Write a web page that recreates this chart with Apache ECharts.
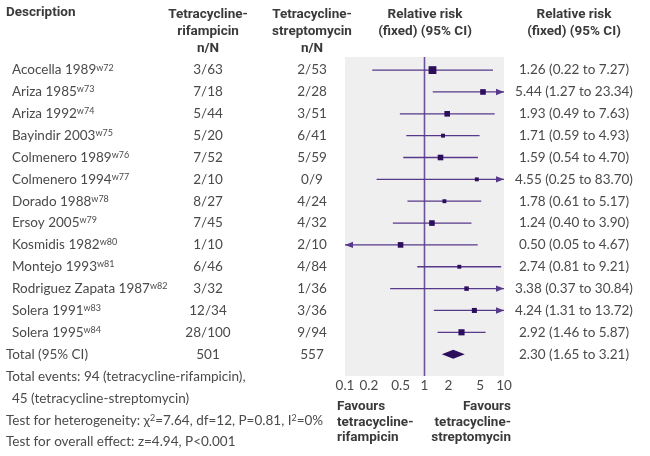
<!DOCTYPE html>
<html>
<head>
<meta charset="utf-8">
<script src="https://cdn.jsdelivr.net/npm/echarts@6/dist/echarts.min.js"></script>
<style>
html,body{margin:0;padding:0;background:#fff;}
#chart{width:650px;height:456px;}
</style>
</head>
<body>
<div id="chart"></div>
<script>
// ---- data ----
const studies = ['Acocella 1989','Ariza 1985','Ariza 1992','Bayindir 2003','Colmenero 1989','Colmenero 1994','Dorado 1988','Ersoy 2005','Kosmidis 1982','Montejo 1993','Rodriguez Zapata 1987','Solera 1991','Solera 1995'];
const refs = ['w72','w73','w74','w75','w76','w77','w78','w79','w80','w81','w82','w83','w84'];
const rifampicin = ['3/63','7/18','5/44','5/20','7/52','2/10','8/27','7/45','1/10','6/46','3/32','12/34','28/100'];
const streptomycin = ['2/53','2/28','3/51','6/41','5/59','0/9','4/24','4/32','2/10','4/84','1/36','3/36','9/94'];
const rr = [1.26,5.44,1.93,1.71,1.59,4.55,1.78,1.24,0.50,2.74,3.38,4.24,2.92];
const lower = [0.22,1.27,0.49,0.59,0.54,0.25,0.61,0.40,0.05,0.81,0.37,1.31,1.46];
const upper = [7.27,23.34,7.63,4.93,4.70,83.70,5.17,3.90,4.67,9.21,30.84,13.72,5.87];
const weight = [17,8.7,8.7,4.2,8.7,4.2,4.2,8.7,8.7,4.2,5.6,7,10.4];
const totalLabel = 'Total (95% CI)';
const totalRif = '501';
const totalStrep = '557';
const totalRR = 2.30, totalLow = 1.65, totalHigh = 3.21;
const ticks = [0.1,0.2,0.5,1,2,5,10];

// ---- styles ----
const BODY = 'Lato, "Open Sans", sans-serif';
const HEAD = 'Roboto, "Open Sans", sans-serif';
const TXT = '#4a4a4a';
const LINE = '#56398a';
const MARK = '#2c0e5c';
const N = studies.length;
const fmt = v => v.toFixed(2);

const chart = echarts.init(document.getElementById('chart'), null, {renderer:'canvas'});

function textEl(x, y, text, align, opts) {
  return {
    type:'text', x:x, y:y,
    style: Object.assign({text:text, fill:TXT, fontFamily:BODY, fontSize:13.5, align:align, verticalAlign:'middle'}, opts || {})
  };
}

const rowsData = studies.map((s,i)=>[1,i]).concat([[1,N]]);

const option = {
  animation:false,
  grid:{left:345, width:159, top:57, height:319, show:true, backgroundColor:'#f0efef', borderWidth:0},
  xAxis:{type:'log', logBase:10, min:0.1, max:10, show:false},
  yAxis:{type:'value', min:-0.6, max:14.0, inverse:true, show:false},
  series:[
    {
      type:'custom', data:[[1,-0.6,14.0]], z:2,
      renderItem:(p,api)=>{
        const a = api.coord([1,-0.6]), b = api.coord([1,14.0]);
        return {type:'line', shape:{x1:a[0],y1:a[1],x2:b[0],y2:b[1]}, style:{stroke:'#6c529c', lineWidth:1.6}};
      }
    },
    {
      type:'custom', z:3,
      data: rr.map((v,i)=>[v,i,lower[i],upper[i],weight[i]]),
      renderItem:(p,api)=>{
        const v=api.value(0), i=api.value(1), lo=api.value(2), hi=api.value(3), w=api.value(4);
        const c = api.coord([v,i]);
        const y = c[1];
        const xl = api.coord([Math.max(lo,0.1),i])[0];
        const xr = api.coord([Math.min(hi,10),i])[0];
        const ch = [];
        ch.push({type:'line', shape:{x1:xl,y1:y,x2:xr,y2:y}, style:{stroke:LINE, lineWidth:1.3}});
        if (hi>10) ch.push({type:'polygon', shape:{points:[[xr,y],[xr-8,y-3.2],[xr-8,y+3.2]]}, style:{fill:LINE}});
        if (lo<0.1) ch.push({type:'polygon', shape:{points:[[xl,y],[xl+8,y-3.2],[xl+8,y+3.2]]}, style:{fill:LINE}});
        const s = 1.9*Math.sqrt(w);
        ch.push({type:'rect', shape:{x:c[0]-s/2,y:y-s/2,width:s,height:s}, style:{fill:MARK}});
        return {type:'group', children:ch};
      }
    },
    {
      type:'custom', z:3,
      data:[[totalRR,N,totalLow,totalHigh]],
      renderItem:(p,api)=>{
        const c = api.coord([api.value(0),api.value(1)]);
        const xl = api.coord([api.value(2),N])[0], xr = api.coord([api.value(3),N])[0];
        return {type:'polygon', shape:{points:[[xl,c[1]],[c[0],c[1]-4.5],[xr,c[1]],[c[0],c[1]+4.5]]}, style:{fill:MARK}};
      }
    },
    {
      type:'custom', z:3,
      data: ticks.map(t=>[t,14.0]),
      renderItem:(p,api)=>{
        const c = api.coord([api.value(0),api.value(1)]);
        return textEl(c[0], c[1]+10, String(api.value(0)), 'center', {fontSize:13.5});
      }
    },
    {
      type:'custom', z:3,
      data: rowsData,
      renderItem:(p,api)=>{
        const i = p.dataIndex;
        const y = api.coord([1,api.value(1)])[1];
        const ch = [];
        if (i<N) {
          ch.push({type:'text', x:12, y:y, style:{text:'{n|'+studies[i]+'}{s|'+refs[i]+'}', fill:TXT, align:'left', verticalAlign:'middle',
            rich:{n:{fontFamily:BODY,fontSize:13.5,fill:TXT}, s:{fontFamily:BODY,fontSize:9,fill:TXT,verticalAlign:'top'}}}});
          ch.push(textEl(208,y,rifampicin[i],'center'));
          ch.push(textEl(312,y,streptomycin[i],'center'));
          ch.push(textEl(574,y,fmt(rr[i])+' ('+fmt(lower[i])+' to '+fmt(upper[i])+')','center'));
        } else {
          ch.push(textEl(6,y,totalLabel,'left'));
          ch.push(textEl(208,y,totalRif,'center'));
          ch.push(textEl(312,y,totalStrep,'center'));
          ch.push(textEl(574,y,fmt(totalRR)+' ('+fmt(totalLow)+' to '+fmt(totalHigh)+')','center'));
        }
        return {type:'group', children:ch};
      }
    }
  ],
  graphic:[
    {type:'text', x:6, y:6, style:{text:'Description', fill:'#3a3a3a', font:'bold 13.5px '+HEAD}},
    {type:'text', x:208, y:6, style:{text:'Tetracycline-\nrifampicin\nn/N', fill:'#3a3a3a', font:'bold 13.5px '+HEAD, align:'center', lineHeight:17}},
    {type:'text', x:312, y:6, style:{text:'Tetracycline-\nstreptomycin\nn/N', fill:'#3a3a3a', font:'bold 13.5px '+HEAD, align:'center', lineHeight:17}},
    {type:'text', x:425, y:6, style:{text:'Relative risk\n(fixed) (95% CI)', fill:'#3a3a3a', font:'bold 13.5px '+HEAD, align:'center', lineHeight:17}},
    {type:'text', x:574, y:6, style:{text:'Relative risk\n(fixed) (95% CI)', fill:'#3a3a3a', font:'bold 13.5px '+HEAD, align:'center', lineHeight:17}},
    {type:'text', x:337, y:399, style:{text:'Favours\ntetracycline-\nrifampicin', fill:'#3a3a3a', font:'bold 13.5px '+HEAD, align:'left', lineHeight:15.5}},
    {type:'text', x:511, y:399, style:{text:'Favours\ntetracycline-\nstreptomycin', fill:'#3a3a3a', font:'bold 13.5px '+HEAD, align:'right', lineHeight:15.5}},
    {type:'text', x:6, y:370, style:{text:'Total events: 94 (tetracycline-rifampicin),', fill:TXT, font:'13.5px '+BODY}},
    {type:'text', x:12, y:392, style:{text:'45 (tetracycline-streptomycin)', fill:TXT, font:'13.5px '+BODY}},
    {type:'text', x:6, y:414, style:{text:'{t|Test for heterogeneity: χ}{s|2}{t|=7.64, df=12, P=0.81, I}{s|2}{t|=0%}', fill:TXT,
      rich:{t:{fontFamily:BODY,fontSize:13.5,fill:TXT}, s:{fontFamily:BODY,fontSize:9,fill:TXT,verticalAlign:'top'}}}},
    {type:'text', x:6, y:435, style:{text:'Test for overall effect: z=4.94, P<0.001', fill:TXT, font:'13.5px '+BODY}}
  ]
};
chart.setOption(option);
</script>
</body>
</html>
